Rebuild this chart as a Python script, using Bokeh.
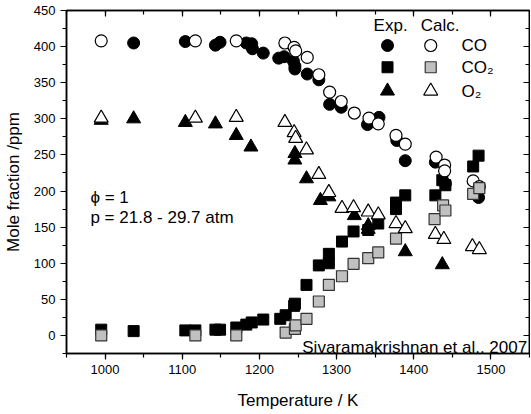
from bokeh.plotting import figure
from bokeh.models import SingleIntervalTicker, LinearAxis, Label
from bokeh.embed import file_html
from bokeh.resources import INLINE

FONT = "Liberation Sans"

# ---- data ----
exp_co_T = [1037, 1104, 1143, 1149, 1183, 1190, 1191, 1205, 1225, 1232, 1244, 1246, 1246, 1262,
            1277, 1291, 1306, 1340, 1355, 1378, 1389, 1428, 1441, 1484]
exp_co = [405, 407, 402, 406, 405, 404, 397, 391, 384, 386, 380, 373, 369, 362,
          354, 320, 316, 292, 302, 270, 242, 240, 210, 191]

calc_co_T = [995, 1117, 1170, 1233, 1245, 1247, 1262, 1277, 1291, 1306, 1323, 1342, 1354, 1377,
             1389, 1429, 1440, 1440, 1477, 1485]
calc_co = [408, 408, 408, 405, 399, 394, 385, 361, 337, 324, 308, 301, 293, 277,
           265, 247, 236, 228, 214, 206]

exp_co2_T = [995, 1037, 1104, 1117, 1143, 1149, 1170, 1183, 1190, 1205, 1227, 1234, 1245, 1246,
             1261, 1277, 1290, 1290, 1307, 1322, 1341, 1354, 1377, 1377, 1389, 1428, 1437, 1441,
             1477, 1484]
exp_co2 = [8, 6, 7, 7, 8, 8, 11, 15, 18, 22, 23, 28, 41, 44,
           70, 97, 100, 113, 130, 144, 146, 155, 175, 184, 194, 194, 215, 208,
           234, 249]

calc_co2_T = [995, 1117, 1170, 1234, 1246, 1247, 1261, 1277, 1290, 1307, 1322, 1341, 1354, 1377,
              1427, 1438, 1441, 1477, 1485]
calc_co2 = [0, 0, 0, 4, 9, 14, 23, 47, 70, 82, 99, 107, 115, 134,
            161, 180, 173, 196, 204]

exp_o2_T = [995, 1037, 1104, 1143, 1170, 1189, 1246, 1246, 1261, 1279, 1290, 1323, 1341, 1341,
            1389, 1437]
exp_o2 = [298, 300, 295, 293, 277, 261, 252, 243, 217, 187, 192, 166, 152, 147,
          116, 98]

calc_o2_T = [995, 1117, 1170, 1233, 1245, 1247, 1261, 1277, 1290, 1307, 1322, 1341, 1354, 1377,
             1389, 1428, 1439, 1476, 1485]
calc_o2 = [301, 301, 302, 295, 281, 273, 257, 223, 198, 176, 177, 171, 167, 155,
           148, 140, 133, 123, 119]

x_ticks_major = 100
y_ticks_major = 50

GRAY = "#c0c0c0"

p = figure(frame_width=463, frame_height=343, x_range=(950, 1550), y_range=(-25, 450),
           output_backend="svg", toolbar_location=None,
           min_border_left=59, min_border_right=1, min_border_top=10, min_border_bottom=53,
           background_fill_color="white", border_fill_color="white",
           outline_line_color="black", outline_line_width=1.5)
p.grid.visible = False

xt = SingleIntervalTicker(interval=x_ticks_major, num_minor_ticks=2)
yt = SingleIntervalTicker(interval=y_ticks_major, num_minor_ticks=2)

for ax, t in ((p.xaxis[0], xt), (p.yaxis[0], yt)):
    ax.ticker = t
    ax.major_tick_in = 0
    ax.major_tick_out = 6
    ax.minor_tick_in = 0
    ax.minor_tick_out = 4
    ax.axis_line_width = 1.5
    ax.major_tick_line_width = 1.2
    ax.minor_tick_line_width = 1.2
    ax.major_label_text_font = FONT
    ax.major_label_text_font_size = "13px"
    ax.major_label_text_color = "black"
    ax.axis_label_text_font = FONT
    ax.axis_label_text_font_size = "17px"
    ax.axis_label_text_font_style = "normal"
    ax.axis_label_text_color = "black"
    ax.major_label_standoff = 5

p.xaxis[0].axis_label = "Temperature / K"
p.yaxis[0].axis_label = "Mole fraction /ppm"
p.yaxis[0].axis_label_standoff = 8
p.xaxis[0].axis_label_standoff = 14

for loc, t in (("above", SingleIntervalTicker(interval=x_ticks_major, num_minor_ticks=2)),
               ("right", SingleIntervalTicker(interval=y_ticks_major, num_minor_ticks=2))):
    ax = LinearAxis(ticker=t)
    ax.major_tick_in = 6
    ax.major_tick_out = 0
    ax.minor_tick_in = 4
    ax.minor_tick_out = 0
    ax.axis_line_width = 1.5
    ax.major_tick_line_width = 1.2
    ax.minor_tick_line_width = 1.2
    ax.major_label_text_font_size = "1px"
    ax.major_label_text_color = None
    ax.major_label_standoff = 0
    p.add_layout(ax, loc)

# ---- data marks ----
p.scatter(exp_co_T, exp_co, marker="circle", size=12, fill_color="black", line_color="black")
p.scatter(exp_co2_T, exp_co2, marker="square", size=11, fill_color="black", line_color="black")
p.scatter(exp_o2_T, exp_o2, marker="triangle", size=14, fill_color="black", line_color="black")
p.scatter(calc_co_T, calc_co, marker="circle", size=12, fill_color="white", line_color="black", line_width=1.2)
p.scatter(calc_co2_T, calc_co2, marker="square", size=11, fill_color=GRAY, line_color="#333333", line_width=1.2)
p.scatter(calc_o2_T, calc_o2, marker="triangle", size=14, fill_color="white", line_color="black", line_width=1.2)

# ---- legend (drawn by hand) ----
leg_exp_x = [1366, 1366, 1366]
leg_calc_x = [1422, 1422, 1422]
leg_rows = [401.5, 371.4, 338.5]
p.scatter(leg_exp_x[:1], leg_rows[:1], marker="circle", size=12, fill_color="black", line_color="black")
p.scatter(leg_exp_x[1:2], leg_rows[1:2], marker="square", size=11, fill_color="black", line_color="black")
p.scatter(leg_exp_x[2:], leg_rows[2:], marker="triangle", size=14, fill_color="black", line_color="black")
p.scatter(leg_calc_x[:1], leg_rows[:1], marker="circle", size=12, fill_color="white", line_color="black", line_width=1.2)
p.scatter(leg_calc_x[1:2], leg_rows[1:2], marker="square", size=11, fill_color=GRAY, line_color="#333333", line_width=1.2)
p.scatter(leg_calc_x[2:], leg_rows[2:], marker="triangle", size=14, fill_color="white", line_color="black", line_width=1.2)

def lab(x, y, text, size="17px", align="left", baseline="middle"):
    p.add_layout(Label(x=x, y=y, text=text, text_font=FONT, text_font_size=size,
                       text_align=align, text_baseline=baseline, text_color="black"))

lab(1348, 429, "Exp.")
lab(1409, 429, "Calc.")
lab(1462, leg_rows[0], "CO")
lab(1462, leg_rows[1], "CO\u2082")
lab(1462, leg_rows[2], "O\u2082")

lab(981, 191, "\u03d5 = 1")
lab(981, 163.5, "p = 21.8 - 29.7 atm")
lab(1547, -17, "Sivaramakrishnan et al., 2007", align="right", baseline="alphabetic")

open("out.html", "w").write(file_html(p, INLINE))
